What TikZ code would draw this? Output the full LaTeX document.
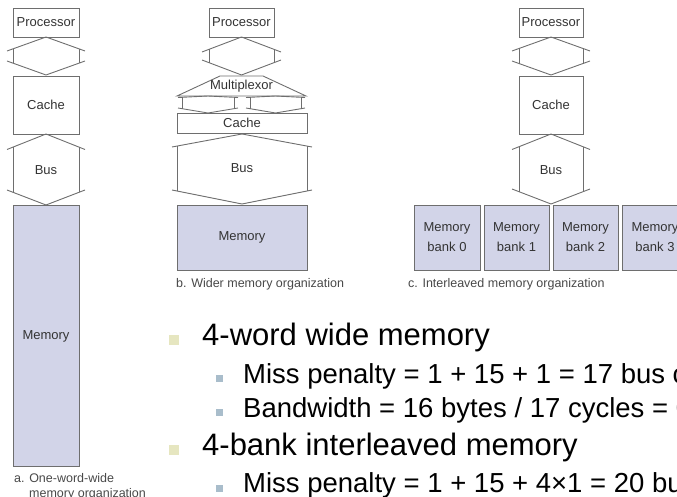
\documentclass[tikz,border=0pt]{standalone}
\usepackage{fontspec}
\setmainfont{Liberation Sans}
\definecolor{linegray}{HTML}{6E6E6E}
\definecolor{dgray}{HTML}{333333}
\definecolor{cgray}{HTML}{484848}
\definecolor{memfill}{HTML}{D2D4E8}
\definecolor{bulA}{HTML}{E6E6C0}
\definecolor{bulB}{HTML}{A9BDCB}
% bus shape: cx, xl, xr, overshoot, ytop, htop, ybot, hbot
\newcommand\bushex[8]{%
  \draw[busline] (#2-#4,#5+#6) -- (#1,#5) -- (#3+#4,#5+#6);
  \draw[busline] (#2-#4,#7-#8) -- (#1,#7) -- (#3+#4,#7-#8);
  \draw[busline] (#2,{#5+#6*(#1-#2)/(#1-#2+#4)}) -- (#2,{#7-#8*(#1-#2)/(#1-#2+#4)});
  \draw[busline] (#3,{#5+#6*(#1-#2)/(#1-#2+#4)}) -- (#3,{#7-#8*(#1-#2)/(#1-#2+#4)});
}
\begin{document}
\begin{tikzpicture}[x=1pt,y=-1pt,
  busline/.style={draw=linegray, line width=0.9pt},
  box/.style={draw=linegray, line width=0.9pt, inner sep=0pt, text=dgray,
    font=\fontsize{13}{20}\selectfont, align=center},
  mem/.style={box, fill=memfill},
  captxt/.style={text=cgray, font=\fontsize{12.5}{15}\selectfont, inner sep=0pt, anchor=west},
  lbl/.style={text=dgray, font=\fontsize{13}{15}\selectfont, inner sep=0pt},
  bigtxt/.style={font=\fontsize{31}{36}\selectfont, inner sep=0pt, anchor=base west},
  smalltxt/.style={font=\fontsize{27.5}{32}\selectfont, inner sep=0pt, anchor=base west}]
\clip (0,0) rectangle (677,497);
\useasboundingbox (0,0) rectangle (677,497);

% ---------- column a ----------
\node[box, minimum width=66pt, minimum height=29pt] (proca) at (46,22.5) {Processor};
\bushex{46}{13}{79}{6}{37}{14}{75}{14}
\node[box, minimum width=66pt, minimum height=58pt] (cachea) at (46,105) {Cache};
\bushex{46}{13}{79}{6}{134}{15.5}{205}{15}
\node[lbl] (busa) at (46,170) {Bus};
\node[mem, minimum width=66pt, minimum height=261pt] (mema) at (46,336) {Memory};
\node[captxt] (capa1) at (14,478) {a. One-word-wide};
\node[captxt] (capa2) at (29,494) {memory organization};

% ---------- column b ----------
\node[box, minimum width=65pt, minimum height=29pt] (procb) at (241.5,22.5) {Processor};
\bushex{241.5}{209}{274}{7}{37}{15}{75}{15}
\draw[busline] (177,96) -- (220,76) -- (263,76) -- (306,96) -- cycle;
\node[lbl] (mux) at (241.5,86) {Multiplexor};
\bushex{208}{182}{234}{4}{96}{1.5}{113}{5}
\bushex{275.5}{250}{301}{4}{96}{1.5}{113}{5}
\node[box, minimum width=130pt, minimum height=20pt] (cacheb) at (242,123) {Cache};
\bushex{242}{177}{307}{5}{134}{13}{204}{14}
\node[lbl] (busb) at (242,168) {Bus};
\node[mem, minimum width=130pt, minimum height=65pt] (memb) at (242,237.5) {Memory};
\node[captxt] (capb) at (176,284) {b. Wider memory organization};

% ---------- column c ----------
\node[box, minimum width=64pt, minimum height=29pt] (procc) at (551,22.5) {Processor};
\bushex{551}{519}{583}{7}{37}{14}{75}{14}
\node[box, minimum width=64pt, minimum height=58pt] (cachec) at (551,105) {Cache};
\bushex{551}{519}{583}{7}{134}{15.5}{204}{15}
\node[lbl] (busc) at (551,170) {Bus};
\node[mem, minimum width=66pt, minimum height=65pt] (bank0) at (447,237.5) {Memory\\bank 0};
\node[mem, minimum width=65pt, minimum height=65pt] (bank1) at (516.5,237.5) {Memory\\bank 1};
\node[mem, minimum width=65pt, minimum height=65pt] (bank2) at (585.5,237.5) {Memory\\bank 2};
\node[mem, minimum width=66pt, minimum height=65pt] (bank3) at (655,237.5) {Memory\\bank 3};
\node[captxt] (capc) at (408,284) {c. Interleaved memory organization};

% ---------- bullets ----------
\fill[bulA] (169,335) rectangle (179,345);
\node[bigtxt] (l1) at (202,345) {4-word wide memory};
\fill[bulB] (216,375) rectangle (223,382);
\node[smalltxt] (l2) at (243,383) {Miss penalty = 1 + 15 + 1 = 17 bus cycles};
\fill[bulB] (216,409) rectangle (223,416);
\node[smalltxt] (l3) at (243,417) {Bandwidth = 16 bytes / 17 cycles = 0.94 B/cycle};
\fill[bulA] (169,445) rectangle (179,455);
\node[bigtxt] (l4) at (202,455) {4-bank interleaved memory};
\fill[bulB] (216,485) rectangle (223,492);
\node[smalltxt] (l5) at (243,492) {Miss penalty = 1 + 15 + 4×1 = 20 bus cycles};
\end{tikzpicture}
\end{document}
